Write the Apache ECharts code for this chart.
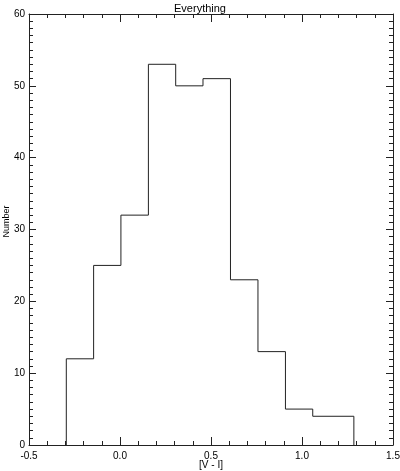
<!DOCTYPE html>
<html>
<head>
<meta charset="utf-8">
<script src="https://cdn.jsdelivr.net/npm/echarts@6/dist/echarts.min.js"></script>
<style>
  html, body { margin: 0; padding: 0; background: #fff; }
  #chart { width: 400px; height: 471px; }
</style>
</head>
<body>
<div id="chart"></div>
<script>
// bin edges along [V - I] and the count in each bin
const binEdges = [-0.295, -0.145, 0.005, 0.156, 0.306, 0.456, 0.607, 0.758, 0.909, 1.059, 1.285];
const counts = [12, 25, 32, 53, 50, 51, 23, 13, 5, 4];

// outline of the histogram, corner by corner
const outline = [[binEdges[0], 0]];
counts.forEach(function (c, i) {
    outline.push([binEdges[i], c]);
    outline.push([binEdges[i + 1], c]);
});
outline.push([binEdges[binEdges.length - 1], 0]);

const ink = '#222';
const font = 'Liberation Sans, Arial, sans-serif';

function xAx(pos, labels) {
    return {
        type: 'value', position: pos, min: -0.5, max: 1.5, interval: 0.5,
        axisLine: { onZero: false, lineStyle: { color: ink } },
        axisTick: { inside: true, length: 8, lineStyle: { color: ink } },
        minorTick: { show: true, splitNumber: 5, length: 4, lineStyle: { color: ink } },
        splitLine: { show: false },
        axisLabel: {
            show: labels, fontSize: 10, fontFamily: font, color: '#000', margin: 6,
            formatter: function (v) { return v.toFixed(1); }
        },
        name: labels ? '[V - I]' : '', nameLocation: 'middle', nameGap: 15,
        nameMoveOverlap: false,
        nameTextStyle: { fontSize: 10, fontFamily: font, color: '#000', verticalAlign: 'top' }
    };
}

function yAx(pos, labels) {
    return {
        type: 'value', position: pos, min: 0, max: 60, interval: 10,
        axisLine: { onZero: false, lineStyle: { color: ink } },
        axisTick: { inside: true, length: 7, lineStyle: { color: ink } },
        minorTick: { show: true, splitNumber: 10, length: 4, lineStyle: { color: ink } },
        splitLine: { show: false },
        axisLabel: { show: labels, fontSize: 10, fontFamily: font, color: '#000', margin: 4 },
        name: labels ? 'Number' : '', nameLocation: 'middle', nameGap: 18,
        nameMoveOverlap: false,
        nameTextStyle: { fontSize: 9, fontFamily: font, color: '#000', padding: [0, 0, 0, 16] }
    };
}

const chart = echarts.init(document.getElementById('chart'));
chart.setOption({
    animation: false,
    title: {
        text: 'Everything', left: 'center', top: -2,
        textStyle: { fontSize: 11, fontWeight: 'normal', fontFamily: font, color: '#000' }
    },
    grid: { left: 29, right: 7, top: 14, bottom: 26, outerBoundsMode: 'none', containLabel: false },
    xAxis: [xAx('bottom', true), xAx('top', false)],
    yAxis: [yAx('left', true), yAx('right', false)],
    series: [{
        type: 'line',
        data: outline,
        showSymbol: false,
        lineStyle: { color: ink, width: 1 }
    }]
});
</script>
</body>
</html>
